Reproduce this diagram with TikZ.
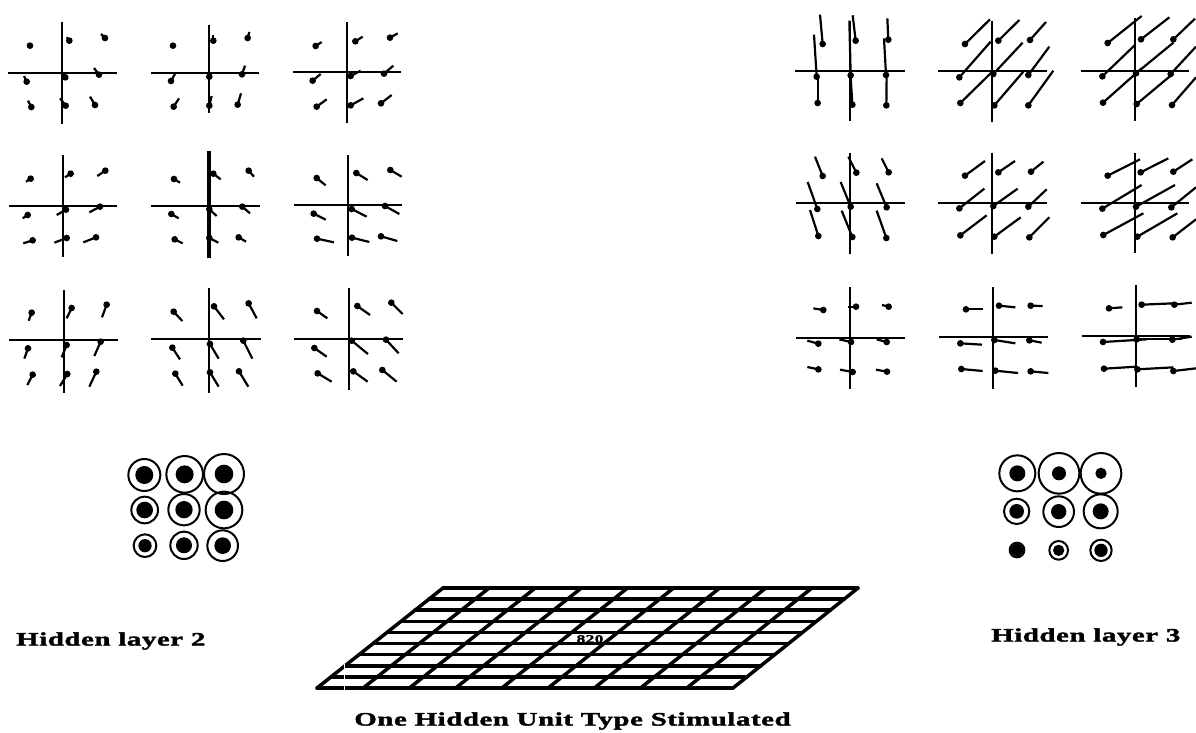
\documentclass[tikz,border=0pt]{standalone}
\usepackage{fontspec}
\usepackage{tikz}
\usetikzlibrary{positioning}
\newfontfamily\capfont[FakeStretch=1.52,FakeBold=2,LetterSpace=3]{Liberation Serif}
\tikzset{
  axisline/.style={line width=2pt,black},
  tailline/.style={line width=2.2pt,black},
  dotmark/.style={fill=black,draw=none},
  ringline/.style={line width=2pt,black},
  meshline/.style={line width=3.5pt,black,line cap=round},
  caption/.style={font=\capfont\fontsize{19}{21}\selectfont\bfseries,inner sep=0pt},
}
% panel: x0,x1,y of the horizontal axis; x,y0,y1 of the vertical axis; width of the vertical axis
\newcommand{\flowpanel}[7]{%
  \draw[axisline] (#1,#3) -- (#2,#3);
  \draw[axisline,line width=#7] (#4,#5) -- (#4,#6);}
\newcommand{\flowtails}[1]{%
  \foreach \dx/\dy/\tx/\ty in {#1}{%
    \draw[tailline] (\dx,\dy) -- (\tx,\ty);
    \fill[dotmark] (\dx,\dy) circle (10);}}
\newcommand{\ringdot}[4]{%
  \draw[ringline] (#1,#2) circle (#3);
  \fill[dotmark] (#1,#2) circle (#4);}
\begin{document}
\begin{tikzpicture}[x=1pt,y=-1pt]
  \useasboundingbox (0,0) rectangle (1196,732);
  % --- left block, top two rows ---
  \begin{scope}[x=1pt/3,y=-1pt/3]
    \flowpanel{25}{350}{220}{187}{66}{373}{2pt}
    \flowtails{90/137/84/130,208/122/200/112,315/114/303/102,80/245/72/228,196/232/188/222,297/224/282/204,94/321/84/302,197/317/180/295,285/315/270/290}
    \flowpanel{453}{778}{220}{627}{75}{340}{2.4pt}
    \flowtails{519/137/519/137,640/122/640/105,743/114/748/96,513/243/525/222,628/230/628/212,726/223/735/197,521/320/537/295,628/317/635/288,713/314/723/280}
    \flowpanel{880}{1202}{217}{1042}{66}{370}{2pt}
    \flowtails{947/138/965/126,1066/124/1088/110,1170/113/1193/100,938/242/962/222,1052/228/1082/212,1152/221/1180/197,950/320/980/298,1052/316/1090/295,1143/310/1175/285}
    \flowpanel{28}{352}{617}{188}{465}{770}{2pt}
    \flowtails{92/536/78/545,212/521/195/532,316/512/292/528,83/645/68/655,198/629/170/645,300/620/268/637,98/721/70/730,200/714/163/728,288/712/250/727}
    \flowpanel{453}{780}{617}{627}{452}{775}{3.4pt}
    \flowtails{522/537/540/548,640/521/662/538,746/512/762/530,514/642/536/655,628/628/650/648,727/620/750/640,524/718/548/730,628/714/655/728,716/712/738/725}
    \flowpanel{882}{1205}{616}{1043}{465}{768}{2pt}
    \flowtails{950/534/977/556,1069/519/1103/540,1171/510/1205/530,941/641/977/659,1055/627/1100/650,1155/618/1198/642,951/716/1002/727,1056/713/1108/726,1143/709/1192/723}
  \end{scope}
  % --- left block, third row ---
  \begin{scope}[shift={(0,270)},x=1pt/3,y=-1pt/3]
    \flowpanel{28}{355}{211}{191}{60}{368}{2pt}
    \flowtails{95/128/86/152,215/114/200/145,320/104/306/142,84/235/73/266,200/225/185/262,302/215/283/258,98/314/82/345,202/312/180/348,289/305/268/350}
    \flowpanel{453}{782}{208}{627}{55}{368}{2.4pt}
    \flowtails{521/125/547/153,642/109/672/148,746/100/770/145,517/233/540/268,630/222/656/266,730/212/757/266,526/311/548/347,630/307/656/350,717/304/745/350}
    \flowpanel{883}{1208}{206}{1047}{55}{360}{2pt}
    \flowtails{951/123/982/145,1072/108/1110/135,1174/98/1208/132,943/234/980/260,1055/212/1104/252,1158/209/1196/250,953/310/995/335,1060/304/1103/335,1147/300/1190/335}
  \end{scope}
  % --- right block, top two rows ---
  \begin{scope}[shift={(780,0)},x=1pt/3,y=-1pt/3]
    \flowpanel{46}{374}{213}{210}{62}{364}{2.4pt}
    \flowtails{128/132/120/44,227/122/218/46,325/119/322/55,110/230/102/104,212/226/208/62,318/225/312/115,113/309/113/232,217/314/212/230,319/316/320/225}
    \flowpanel{475}{800}{213}{637}{62}{365}{2pt}
    \flowtails{555/132/630/58,655/122/718/60,750/120/798/66,538/232/632/125,640/222/728/128,745/225/808/140,541/309/640/212,643/316/730/215,745/316/820/212}
    \flowpanel{903}{1227}{212}{1065}{55}{362}{2pt}
    \flowtails{983/129/1085/48,1083/118/1168/52,1180/118/1245/56,967/229/1065/135,1068/220/1180/128,1172/222/1248/140,969/308/1085/205,1070/312/1178/222,1176/315/1248/232}
    \flowpanel{48}{374}{610}{211}{458}{763}{2pt}
    \flowtails{128/528/105/470,229/518/205/470,326/517/305/475,112/627/83/546,212/620/182/546,320/622/290/550,115/708/90/630,217/711/185/632,319/714/290/632}
    \flowpanel{475}{800}{608}{637}{458}{762}{2pt}
    \flowtails{555/527/615/483,655/517/705/483,753/515/790/485,538/625/613/566,640/618/713/566,745/620/800/568,541/706/620/646,643/710/722/652,748/712/808/652}
    \flowpanel{903}{1227}{608}{1066}{458}{760}{2pt}
    \flowtails{983/527/1080/478,1082/517/1165/475,1180/515/1237/478,967/626/1085/555,1068/620/1185/555,1174/622/1248/562,970/705/1090/640,1072/710/1192/640,1178/712/1248/658}
  \end{scope}
  % --- right block, third row ---
  \begin{scope}[shift={(780,270)},x=1pt/3,y=-1pt/3]
    \flowpanel{48}{374}{204}{211}{52}{358}{2pt}
    \flowtails{130/120/100/115,228/110/205/110,326/110/306/105,115/221/82/212,213/216/178/208,320/216/290/208,115/298/82/291,218/306/180/299,321/305/288/299}
    \flowpanel{478}{803}{201}{638}{50}{356}{2pt}
    \flowtails{558/118/610/118,657/107/706/112,752/107/788/108,541/220/606/224,643/210/706/220,748/211/785/218,544/297/608/303,646/302/714/309,752/304/805/309}
    \flowpanel{906}{1230}{199}{1068}{45}{352}{2pt}
    \flowtails{987/115/1027/112,1085/104/1180/100,1183/104/1235/98,969/216/1100/208,1070/208/1205/208,1177/209/1235/200,972/296/1070/290,1072/298/1180/292,1180/303/1248/295}
  \end{scope}
  % --- rings, hidden layer 2 ---
  \begin{scope}[shift={(100,440)},x=1pt/3,y=-1pt/3]
    \ringdot{133}{105}{48}{27} \ringdot{254}{103}{55}{27} \ringdot{372}{102}{60}{28}
    \ringdot{134}{210}{40}{25} \ringdot{252}{209}{47}{26} \ringdot{372}{210}{55}{28}
    \ringdot{135}{317}{34}{20} \ringdot{252}{316}{41}{24} \ringdot{368}{317}{46}{25}
  \end{scope}
  % --- rings, hidden layer 3 ---
  \begin{scope}[shift={(980,440)},x=1pt/3,y=-1pt/3]
    \ringdot{112}{100}{54}{24} \ringdot{237}{100}{61}{21} \ringdot{363}{100}{61}{17}
    \ringdot{110}{214}{38}{22} \ringdot{236}{215}{46}{23} \ringdot{362}{214}{51}{24}
    \ringdot{111}{330}{22}{19} \ringdot{236}{331}{28}{17} \ringdot{363}{331}{32}{20}
  \end{scope}
  % --- stimulated sheet ---
  \foreach \i in {0,1,...,9}{%
    \draw[meshline] ({443+\i*415/9},588) -- ({317+\i*416/9},688);
    \draw[meshline] ({443-\i*126/9},{588+\i*100/9}) -- ({858-\i*125/9},{588+\i*100/9});}
  \draw[white,line width=0.9pt] (344,664) -- (344,690);
  \node[font=\capfont\fontsize{11.5}{12}\selectfont\bfseries,inner sep=1pt] (peak) at (590,639) {820};
  \node[caption] (sheetcap) at (572.5,721) {One Hidden Unit Type Stimulated};
  \node[caption,anchor=west] (leftcap) at (16,641) {Hidden layer 2};
  \node[caption,anchor=west] (rightcap) at (991,637) {Hidden layer 3};
\end{tikzpicture}
\end{document}
